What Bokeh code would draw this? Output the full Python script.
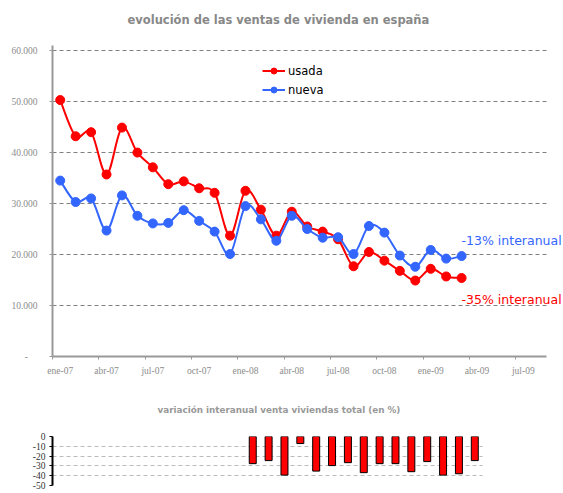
from bokeh.plotting import figure
from bokeh.models import (FixedTicker, Legend, LegendItem, Label, Range1d, ColumnDataSource, Grid,
                          Title)
from bokeh.layouts import column
from bokeh.embed import file_html
from bokeh.resources import INLINE

# ---------------- data ----------------
meses = ["ene-07", "feb-07", "mar-07", "abr-07", "may-07", "jun-07", "jul-07", "ago-07", "sep-07",
         "oct-07", "nov-07", "dic-07", "ene-08", "feb-08", "mar-08", "abr-08", "may-08", "jun-08",
         "jul-08", "ago-08", "sep-08", "oct-08", "nov-08", "dic-08", "ene-09", "feb-09", "mar-09"]
usada = [50300, 43200, 44000, 35700, 44900, 40000, 37100, 33800, 34350, 33000, 32100, 23700,
         32500, 28800, 23700, 28400, 25500, 24500, 23000, 17700, 20500, 18800, 16800, 14900,
         17200, 15700, 15400]
nueva = [34500, 30300, 31000, 24700, 31600, 27600, 26100, 26200, 28700, 26600, 24500, 20100,
         29500, 26900, 22700, 27600, 25000, 23300, 23400, 20100, 25600, 24300, 19800, 17600,
         20900, 19200, 19700]
meses_var = meses[12:]
variacion = [-27.7, -24.6, -39.4, -7.2, -35.3, -29.7, -26.7, -36.9, -27.7, -27.7, -35.9, -25.6,
             -39.4, -38.0, -24.6]
y_ticks = [0, 10000, 20000, 30000, 40000, 50000, 60000]
y_tick_labels = ["-\u00a0\u00a0\u00a0\u00a0", "10.000", "20.000", "30.000", "40.000", "50.000",
                 "60.000"]
x_tick_labels = ["ene-07", "abr-07", "jul-07", "oct-07", "ene-08", "abr-08", "jul-08", "oct-08",
                 "ene-09", "abr-09", "jul-09"]
var_ticks = [0, -10, -20, -30, -40, -50]
var_tick_labels = ["0", "-10", "-20", "-30", "-40", "-50"]
titulo = "evolución de las ventas de vivienda en españa"
titulo_var = "variación interanual venta viviendas total (en %)"
nota_nueva = "-13% interanual"
nota_usada = "-35% interanual"

# ---------------- styles ----------------
RED = "#FF0000"
BLUE = "#3366FF"
GREY = "#999999"
LABEL_GREY = "#8c8c8c"
TICK_FONT = "Liberation Sans Narrow"
W = 563
AXIS_END = 32                       # axis spans 32 months (ene-07 .. ago-09)
X_END = AXIS_END * (W - 52) / 494.0  # frame extends to the page edge so notes are not clipped
HAS_CB = "cross_bounds" in Grid.properties()

# month positions: each month occupies one unit, points at mid-month
xs = [i + 0.5 for i in range(len(meses))]


def smooth_segments(px, py):
    """Bezier control points (Catmull-Rom style smoothing) through the data points."""
    n = len(px)
    d = dict(x0=[], y0=[], x1=[], y1=[], cx0=[], cy0=[], cx1=[], cy1=[])
    for i in range(n - 1):
        xp, yp = (px[i - 1], py[i - 1]) if i > 0 else (px[i], py[i])
        xn, yn = (px[i + 2], py[i + 2]) if i + 2 < n else (px[i + 1], py[i + 1])
        d["x0"].append(px[i]); d["y0"].append(py[i])
        d["x1"].append(px[i + 1]); d["y1"].append(py[i + 1])
        d["cx0"].append(px[i] + (px[i + 1] - xp) / 6.0)
        d["cy0"].append(py[i] + (py[i + 1] - yp) / 6.0)
        d["cx1"].append(px[i + 1] - (xn - px[i]) / 6.0)
        d["cy1"].append(py[i + 1] - (yn - py[i]) / 6.0)
    return ColumnDataSource(d)


# ---------------- main chart ----------------
p = figure(width=W, height=378, x_range=Range1d(0, X_END), y_range=Range1d(0, 61000),
           output_backend="svg", toolbar_location=None,
           min_border_left=52, min_border_right=0, min_border_top=45, min_border_bottom=20)
p.outline_line_color = None
p.background_fill_color = "white"

p.title.text = titulo
p.title.align = "left"
p.title.offset = 75
p.title.standoff = 4
p.title.text_font = "DejaVu Sans"
p.title.text_font_size = "11.5px"
p.title.text_font_style = "bold"
p.title.text_color = "#888888"
# empty spacer panel between the title and the plot area
p.add_layout(Title(text="\u00a0", text_font_size="1px", standoff=14), "above")

p.xgrid.visible = False
if HAS_CB:
    p.ygrid.cross_bounds = (0, AXIS_END)
    p.ygrid.grid_line_color = "#808080"
    p.ygrid.grid_line_dash = "4 3"
    p.ygrid.grid_line_width = 1
else:
    p.ygrid.visible = False
    p.segment(x0=[0] * len(y_ticks), x1=[AXIS_END] * len(y_ticks), y0=y_ticks, y1=y_ticks,
              line_color="#808080", line_dash="4 3", line_width=1, level="underlay")

p.yaxis.ticker = FixedTicker(ticks=y_ticks)
p.yaxis.major_label_overrides = dict(zip(y_ticks, y_tick_labels))
p.yaxis.axis_line_color = GREY
p.yaxis.axis_line_width = 2
p.yaxis.major_tick_line_color = GREY
p.yaxis.major_tick_out = 3
p.yaxis.major_tick_in = 0
p.yaxis.minor_tick_line_color = None
p.yaxis.major_label_text_color = LABEL_GREY
p.yaxis.major_label_text_font = TICK_FONT
p.yaxis.major_label_text_font_size = "9.5px"
p.yaxis.major_label_standoff = 12

label_pos = [3 * k + 0.5 for k in range(len(x_tick_labels))]
tick_pos = [3 * k for k in range(len(x_tick_labels))]
p.xaxis.ticker = FixedTicker(ticks=label_pos, minor_ticks=tick_pos)
p.xaxis.major_label_overrides = dict(zip(label_pos, x_tick_labels))
p.xaxis.bounds = (0, AXIS_END)
p.xaxis.axis_line_color = GREY
p.xaxis.axis_line_width = 2
p.xaxis.major_tick_line_color = None
p.xaxis.minor_tick_line_color = GREY
p.xaxis.minor_tick_out = 3
p.xaxis.minor_tick_in = 0
p.xaxis.major_label_text_color = LABEL_GREY
p.xaxis.major_label_text_font = TICK_FONT
p.xaxis.major_label_text_font_size = "9.5px"
p.xaxis.major_label_standoff = 3

r_u_line = p.bezier(x0="x0", y0="y0", x1="x1", y1="y1", cx0="cx0", cy0="cy0", cx1="cx1", cy1="cy1",
                    source=smooth_segments(xs, usada), line_color=RED, line_width=2)
r_u_pts = p.scatter(xs, usada, size=9, color=RED)
r_n_line = p.bezier(x0="x0", y0="y0", x1="x1", y1="y1", cx0="cx0", cy0="cy0", cx1="cx1", cy1="cy1",
                    source=smooth_segments(xs, nueva), line_color=BLUE, line_width=2)
r_n_pts = p.scatter(xs, nueva, size=9, color=BLUE)

legend = Legend(items=[LegendItem(label="usada", renderers=[r_u_line, r_u_pts]),
                       LegendItem(label="nueva", renderers=[r_n_line, r_n_pts])],
                location=(210, 259), orientation="vertical", border_line_color=None,
                background_fill_alpha=0, padding=0, margin=0, spacing=4,
                glyph_width=23, glyph_height=15, label_height=15, label_standoff=3,
                label_text_font="DejaVu Sans", label_text_font_size="11.5px",
                label_text_color="black")
p.add_layout(legend)

p.add_layout(Label(x=xs[-1], y=22700, text=nota_nueva, text_color=BLUE, text_font="DejaVu Sans",
                   text_font_size="12.5px", text_baseline="middle", text_align="left"))
p.add_layout(Label(x=xs[-1], y=11200, text=nota_usada, text_color=RED, text_font="DejaVu Sans",
                   text_font_size="12.5px", text_baseline="middle", text_align="left"))

# ---------------- variation chart ----------------
SLOT = 15.86          # pixels per month in the lower chart
Q_START = -2 / SLOT   # first slot starts just left of the axis line
Q_END = Q_START + (W - 52) / SLOT
q = figure(width=W, height=115, x_range=Range1d(Q_START, Q_END), y_range=Range1d(-50, 0),
           output_backend="svg", toolbar_location=None,
           min_border_left=52, min_border_right=0, min_border_top=58, min_border_bottom=8)
q.outline_line_color = None
q.title.text = titulo_var
q.title.align = "left"
q.title.offset = 105
q.title.standoff = 44
q.title.text_font = "DejaVu Sans"
q.title.text_font_size = "8.8px"
q.title.text_font_style = "bold"
q.title.text_color = "#999999"

q.xaxis.visible = False
q.xgrid.visible = False
if HAS_CB:
    q.ygrid.cross_bounds = (Q_START, len(meses))
    q.ygrid.grid_line_color = "#bbbbbb"
    q.ygrid.grid_line_dash = "4 3"
else:
    q.ygrid.visible = False
    q.segment(x0=[Q_START] * len(var_ticks), x1=[len(meses)] * len(var_ticks), y0=var_ticks,
              y1=var_ticks, line_color="#bbbbbb", line_dash="4 3", line_width=1, level="underlay")
q.yaxis.ticker = FixedTicker(ticks=var_ticks)
q.yaxis.major_label_overrides = dict(zip(var_ticks, var_tick_labels))
q.yaxis.axis_line_color = "black"
q.yaxis.axis_line_width = 2
q.yaxis.major_tick_line_color = "black"
q.yaxis.major_tick_out = 3
q.yaxis.major_tick_in = 0
q.yaxis.minor_tick_line_color = None
q.yaxis.major_label_text_color = "#333333"
q.yaxis.major_label_text_font = TICK_FONT
q.yaxis.major_label_text_font_size = "9.5px"
q.yaxis.major_label_standoff = 4

var_x = [meses.index(m) + 0.5 for m in meses_var]
q.vbar(x=var_x, top=variacion, bottom=0, width=0.44, fill_color=RED, line_color="black",
       line_width=1)

layout = column(p, q, spacing=0)
open("out.html", "w").write(file_html(layout, INLINE))
